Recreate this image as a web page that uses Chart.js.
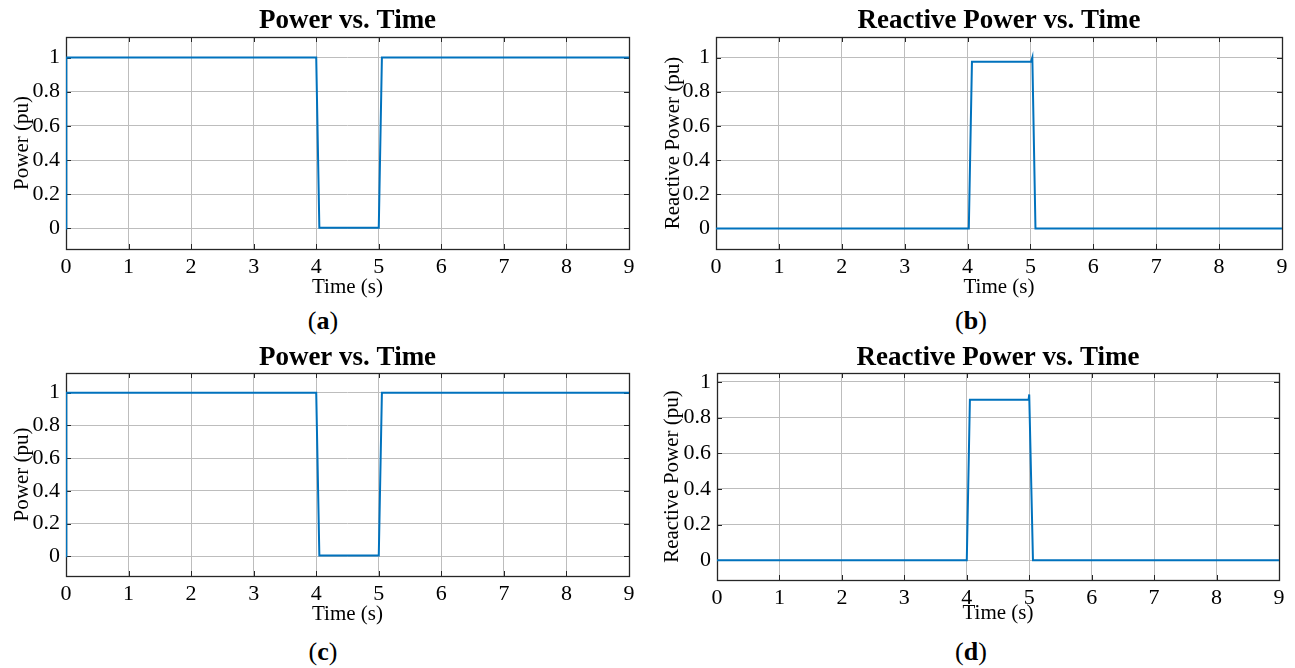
<!DOCTYPE html>
<html><head><meta charset="utf-8">
<script src="https://cdn.jsdelivr.net/npm/chart.js@4.4.0/dist/chart.umd.min.js"></script>
<style>
html,body{margin:0;padding:0;background:#fff;width:1295px;height:668px;overflow:hidden;position:relative;}
canvas{position:absolute;}
.sub{position:absolute;font-family:"Liberation Serif",serif;font-size:26px;color:#000;transform:translate(-50%,-50%);white-space:nowrap;line-height:1;}
</style></head><body>
<div class="sub" style="left:323px;top:321px">(<b>a</b>)</div>
<div class="sub" style="left:971px;top:321px">(<b>b</b>)</div>
<div class="sub" style="left:323px;top:652px">(<b>c</b>)</div>
<div class="sub" style="left:971px;top:652px">(<b>d</b>)</div>
<script>
// ---- data ----
const xTicks = [0,1,2,3,4,5,6,7,8,9];
const yTicks = [0,0.2,0.4,0.6,0.8,1];
const titles = ["Power vs. Time","Reactive Power vs. Time","Power vs. Time","Reactive Power vs. Time"];
const yLabels = ["Power (pu)","Reactive Power (pu)","Power (pu)","Reactive Power (pu)"];
const xLabel = "Time (s)";

const timeA = [0, 0.005, 4.0, 4.05, 5.0, 5.05, 9];
const powerA = [0, 1, 1, 0.005, 0.005, 1, 1];

const timeB = [0, 4.02, 4.07, 5.01, 5.03, 5.08, 9];
const reactiveB = [0, 0, 0.975, 0.975, 1.0, 0, 0];

const timeC = [0, 0.005, 4.0, 4.05, 5.0, 5.05, 9];
const powerC = [0, 1, 1, 0.005, 0.005, 1, 1];

const timeD = [0, 4.0, 4.05, 4.99, 5.0, 5.06, 9];
const reactiveD = [0, 0, 0.9, 0.9, 0.93, 0, 0];

// ---- layout (styles) ----
const panels = [
  {t:timeA, v:powerA, cv:{x:0,y:0,w:647,h:305}, p:{l:66,r:629,t:37,b:249}, titleY:21, xTickY:267, xTitleY:287, yTickR:60, yTitleX:22, yMin:-0.12, yMax:1.12},
  {t:timeB, v:reactiveB, cv:{x:647,y:0,w:648,h:305}, p:{l:716,r:1282,t:37,b:249}, titleY:21, xTickY:267, xTitleY:287, yTickR:710, yTitleX:673, yMin:-0.12, yMax:1.12},
  {t:timeC, v:powerC, cv:{x:0,y:335,w:647,h:305}, p:{l:66,r:629,t:373,b:576}, titleY:358, xTickY:594, xTitleY:614, yTickR:60, yTitleX:22, yMin:-0.12, yMax:1.12},
  {t:timeD, v:reactiveD, cv:{x:647,y:335,w:648,h:305}, p:{l:717,r:1279,t:373,b:580}, titleY:358, xTickY:598, xTitleY:613, yTickR:711, yTitleX:672, yMin:-0.11, yMax:1.05}
];

const SERIF = '"Liberation Serif","Times New Roman",serif';
const TITLE_SIZE = 27, TICK_SIZE = 22, LAB_SIZE = 21;

const framePlugin = {
  id:'frame',
  beforeDatasetsDraw(chart){
    const {ctx, chartArea:a, scales:{x,y}} = chart;
    ctx.save();
    ctx.strokeStyle = '#262626';
    ctx.lineWidth = 1;
    ctx.beginPath();
    x.ticks.forEach(t=>{
      const px = Math.round(x.getPixelForValue(t.value))+0.5;
      ctx.moveTo(px, a.top); ctx.lineTo(px, a.top+5);
      ctx.moveTo(px, a.bottom); ctx.lineTo(px, a.bottom-5);
    });
    y.ticks.forEach(t=>{
      const py = Math.round(y.getPixelForValue(t.value))+0.5;
      ctx.moveTo(a.left, py); ctx.lineTo(a.left+5, py);
      ctx.moveTo(a.right, py); ctx.lineTo(a.right-5, py);
    });
    ctx.stroke();
    ctx.lineWidth = 1.3;
    ctx.strokeRect(Math.round(a.left)+0.5, Math.round(a.top)+0.5, Math.round(a.right-a.left), Math.round(a.bottom-a.top));
    ctx.restore();
  }
};

panels.forEach((P, i)=>{
  const c = document.createElement('canvas');
  c.width = P.cv.w; c.height = P.cv.h;
  c.style.left = P.cv.x+'px'; c.style.top = P.cv.y+'px';
  document.body.appendChild(c);
  const titleLH = TITLE_SIZE; // lineHeight 1
  const tPadTop = P.titleY - P.cv.y - titleLH/2;
  const tPadBot = (P.p.t - P.cv.y) - tPadTop - titleLH;
  const labLH = LAB_SIZE*1.2, tickLH = TICK_SIZE*1.2;
  const yWidth = P.p.l - P.cv.x;
  const xHeight = P.cv.y + P.cv.h - P.p.b;
  const rightPad = P.cv.x + P.cv.w - P.p.r;
  const pts = P.t.map((tt,k)=>({x:tt, y:P.v[k]}));
  new Chart(c, {
    type:'line',
    data:{datasets:[{data:pts, borderColor:'#0072BD', borderWidth:2, pointRadius:0, tension:0, fill:false}]},
    options:{
      responsive:false, animation:false, devicePixelRatio:1,
      layout:{padding:{left:0,right:rightPad,top:0,bottom:0}},
      plugins:{
        legend:{display:false}, tooltip:{enabled:false},
        title:{display:true, text:titles[i], fullSize:false, color:'#000',
          font:{family:SERIF, size:TITLE_SIZE, weight:'bold', lineHeight:1},
          padding:{top:tPadTop, bottom:tPadBot}}
      },
      scales:{
        x:{type:'linear', min:0, max:9,
          afterBuildTicks(s){ s.ticks = xTicks.map(v=>({value:v})); },
          afterFit(s){ s.height = xHeight; },
          grid:{color:'#bdbdbd', lineWidth:1, drawTicks:false},
          border:{display:false},
          ticks:{color:'#000', maxRotation:0, autoSkip:false, padding:P.xTickY - P.p.b - tickLH/2,
            font:{family:SERIF, size:TICK_SIZE}, callback:(v)=>String(v)},
          title:{display:true, text:xLabel, color:'#000', font:{family:SERIF, size:LAB_SIZE},
            padding:{top:0, bottom:P.cv.y + P.cv.h - P.xTitleY - labLH/2}}
        },
        y:{type:'linear', min:P.yMin, max:P.yMax,
          afterBuildTicks(s){ s.ticks = yTicks.map(v=>({value:v})); },
          afterFit(s){ s.width = yWidth; },
          grid:{color:'#bdbdbd', lineWidth:1, drawTicks:false},
          border:{display:false},
          ticks:{color:'#000', autoSkip:false, padding:P.p.l - P.yTickR,
            font:{family:SERIF, size:TICK_SIZE}, callback:(v)=>String(v)},
          title:{display:true, text:yLabels[i], color:'#000', font:{family:SERIF, size:LAB_SIZE},
            padding:{top:P.yTitleX - P.cv.x - labLH/2, bottom:0}}
        }
      }
    },
    plugins:[framePlugin]
  });
});
</script>
</body></html>
